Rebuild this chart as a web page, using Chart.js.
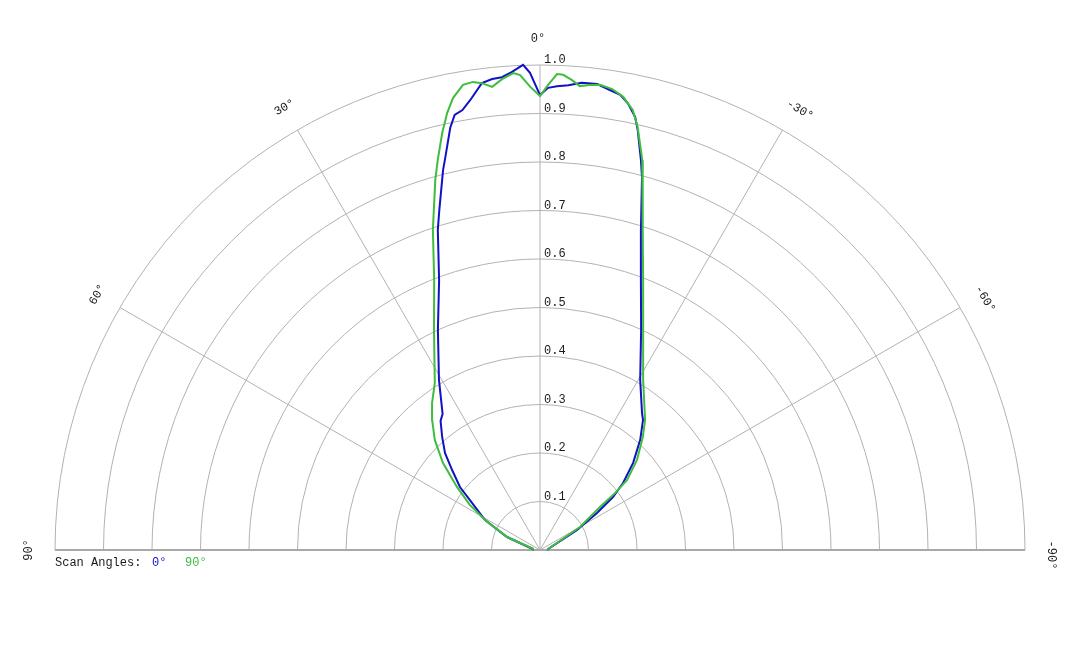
<!DOCTYPE html>
<html>
<head>
<meta charset="utf-8">
<script src="https://cdn.jsdelivr.net/npm/chart.js@4.4.0/dist/chart.umd.min.js"></script>
<style>
html,body{margin:0;padding:0;background:#fff;}
#wrap{width:1080px;height:648px;}
canvas{display:block;}
</style>
</head>
<body>
<div id="wrap"><canvas id="c" width="1080" height="648"></canvas></div>
<script>
// ---- Data (angle in degrees, positive = left of 0°; r = normalized magnitude) ----
const blueLabel = "0°";
const blueAngles = [90, 82, 68.5, 61.4, 55.3, 51.8, 47.7, 44.4, 40.9, 37.6, 35.6, 30.7, 24.9, 20.5, 17.7, 16.5, 14.3, 13.7, 12.0, 11.1, 10.0, 8.8, 7.1, 5.8, 4.6, 3.4, 2.0, 1.2, 0, -1.0, -2.1, -3.5, -5.1, -7.0, -8.7, -10.0, -11.1, -12.4, -13.1, -14.5, -15.3, -17.5, -20.5, -24.7, -30.5, -36.7, -38.4, -42.3, -46.9, -51.1, -54.0, -57.0, -61.6, -83, -90];
const blueR = [0.015, 0.015, 0.073, 0.129, 0.170, 0.210, 0.245, 0.280, 0.308, 0.336, 0.345, 0.408, 0.500, 0.594, 0.693, 0.731, 0.809, 0.828, 0.890, 0.914, 0.921, 0.939, 0.970, 0.976, 0.978, 0.987, 1.001, 0.984, 0.938, 0.953, 0.957, 0.960, 0.967, 0.968, 0.959, 0.953, 0.939, 0.914, 0.889, 0.831, 0.797, 0.692, 0.594, 0.499, 0.407, 0.352, 0.342, 0.307, 0.263, 0.220, 0.186, 0.140, 0.087, 0.017, 0.015];

const greenLabel = "90°";
const greenAngles = [90, 80, 68.5, 61.4, 57.3, 52.8, 48.1, 43.7, 39.7, 36.3, 32.2, 25.7, 21.4, 18.5, 15.8, 14.7, 13.2, 12.0, 10.9, 9.4, 8.15, 7.1, 5.9, 4.6, 3.2, 2.4, 1.2, 0, -1.0, -2.05, -2.8, -3.9, -4.9, -6.1, -7.35, -8.9, -10.4, -11.9, -13.0, -14.7, -17.8, -20.9, -25.1, -31.2, -38.9, -42.3, -47.1, -51.2, -52.8, -54.4, -60.1, -83, -90];
const greenR = [0.015, 0.015, 0.073, 0.129, 0.172, 0.215, 0.269, 0.314, 0.348, 0.376, 0.407, 0.504, 0.598, 0.696, 0.793, 0.831, 0.883, 0.921, 0.949, 0.972, 0.975, 0.970, 0.960, 0.974, 0.985, 0.980, 0.955, 0.936, 0.959, 0.982, 0.981, 0.971, 0.960, 0.964, 0.967, 0.962, 0.950, 0.927, 0.895, 0.831, 0.693, 0.596, 0.502, 0.410, 0.345, 0.315, 0.273, 0.230, 0.194, 0.152, 0.095, 0.017, 0.015];

const ringTicks = [0.1, 0.2, 0.3, 0.4, 0.5, 0.6, 0.7, 0.8, 0.9, 1.0];
const ringLabels = ["0.1", "0.2", "0.3", "0.4", "0.5", "0.6", "0.7", "0.8", "0.9", "1.0"];
const spokeAngles = [60, 30, 0, -30, -60];
const angleTicks = [90, 60, 30, 0, -30, -60, -90];
const angleLabels = ["90°", "60°", "30°", "0°", "-30°", "-60°", "-90°"];
const legendTitle = "Scan Angles:";

const BLUE = '#1212c4';
const GREEN = '#3fbd3f';
const GRID = '#b2b2b2';
const FONT = '12px "Liberation Mono", "DejaVu Sans Mono", monospace';

function toXY(angles, rs){
  return angles.map((a, i) => {
    const t = a * Math.PI / 180;
    return { x: -rs[i] * Math.sin(t), y: rs[i] * Math.cos(t) };
  });
}

const polarGrid = {
  id: 'polarGrid',
  beforeDatasetsDraw(chart){
    const {ctx, scales:{x, y}} = chart;
    const cx = x.getPixelForValue(0), cy = y.getPixelForValue(0);
    const R = x.getPixelForValue(1) - cx;
    ctx.save();
    ctx.strokeStyle = GRID;
    ctx.lineWidth = 1;
    ringTicks.forEach(v => {
      ctx.beginPath();
      ctx.arc(cx, cy, R * v, Math.PI, 2 * Math.PI);
      ctx.stroke();
    });
    spokeAngles.forEach(a => {
      const t = a * Math.PI / 180;
      ctx.beginPath();
      ctx.moveTo(cx, cy);
      ctx.lineTo(x.getPixelForValue(-Math.sin(t)), y.getPixelForValue(Math.cos(t)));
      ctx.stroke();
    });
    ctx.strokeStyle = '#a8a8a8';
    ctx.lineWidth = 2;
    ctx.beginPath();
    ctx.moveTo(x.getPixelForValue(-1), cy);
    ctx.lineTo(x.getPixelForValue(1), cy);
    ctx.stroke();

    // radius labels
    ctx.fillStyle = '#1a1a1a';
    ctx.font = FONT;
    ctx.textAlign = 'left';
    ctx.textBaseline = 'alphabetic';
    ringTicks.forEach((v, i) => {
      ctx.fillText(ringLabels[i], cx + 4, y.getPixelForValue(v) - 2);
    });

    // angle labels
    ctx.textAlign = 'center';
    ctx.textBaseline = 'middle';
    angleTicks.forEach((a, i) => {
      const t = a * Math.PI / 180;
      const rr = R + 26;
      const px = cx - rr * Math.sin(t), py = cy - rr * Math.cos(t);
      ctx.save();
      ctx.translate(px, py);
      ctx.rotate(-t);
      const shift = a < 0 ? 5 : (a === 0 ? -2 : 0);
      ctx.fillText(angleLabels[i], shift, 0);
      ctx.restore();
    });
    ctx.restore();
  },
  afterDraw(chart){
    const {ctx} = chart;
    ctx.save();
    ctx.font = FONT;
    ctx.textAlign = 'left';
    ctx.textBaseline = 'alphabetic';
    ctx.fillStyle = '#1a1a1a';
    const lx = 55, ly = 566;
    ctx.fillText(legendTitle, lx, ly);
    const ds = chart.data.datasets.slice().sort((a, b) => a.legendIndex - b.legendIndex);
    let px = 152;
    ds.forEach(d => {
      ctx.fillStyle = d.borderColor;
      ctx.fillText(d.label, px, ly);
      px += 33;
    });
    ctx.restore();
  }
};

new Chart(document.getElementById('c'), {
  type: 'scatter',
  data: {
    datasets: [
      { label: greenLabel, legendIndex: 1, data: toXY(greenAngles, greenR), borderColor: GREEN, backgroundColor: GREEN, showLine: true, borderWidth: 2, pointRadius: 0, tension: 0, clip: false, order: 0 },
      { label: blueLabel, legendIndex: 0, data: toXY(blueAngles, blueR), borderColor: BLUE, backgroundColor: BLUE, showLine: true, borderWidth: 2, pointRadius: 0, tension: 0, clip: false, order: 1 }
    ]
  },
  options: {
    responsive: false,
    animation: false,
    devicePixelRatio: 1,
    layout: { padding: { left: 55, right: 55, top: 65, bottom: 98 } },
    scales: {
      x: { type: 'linear', min: -1, max: 1, display: false },
      y: { type: 'linear', min: 0, max: 1, display: false }
    },
    plugins: { legend: { display: false }, tooltip: { enabled: false } },
    events: []
  },
  plugins: [polarGrid]
});
</script>
</body>
</html>
